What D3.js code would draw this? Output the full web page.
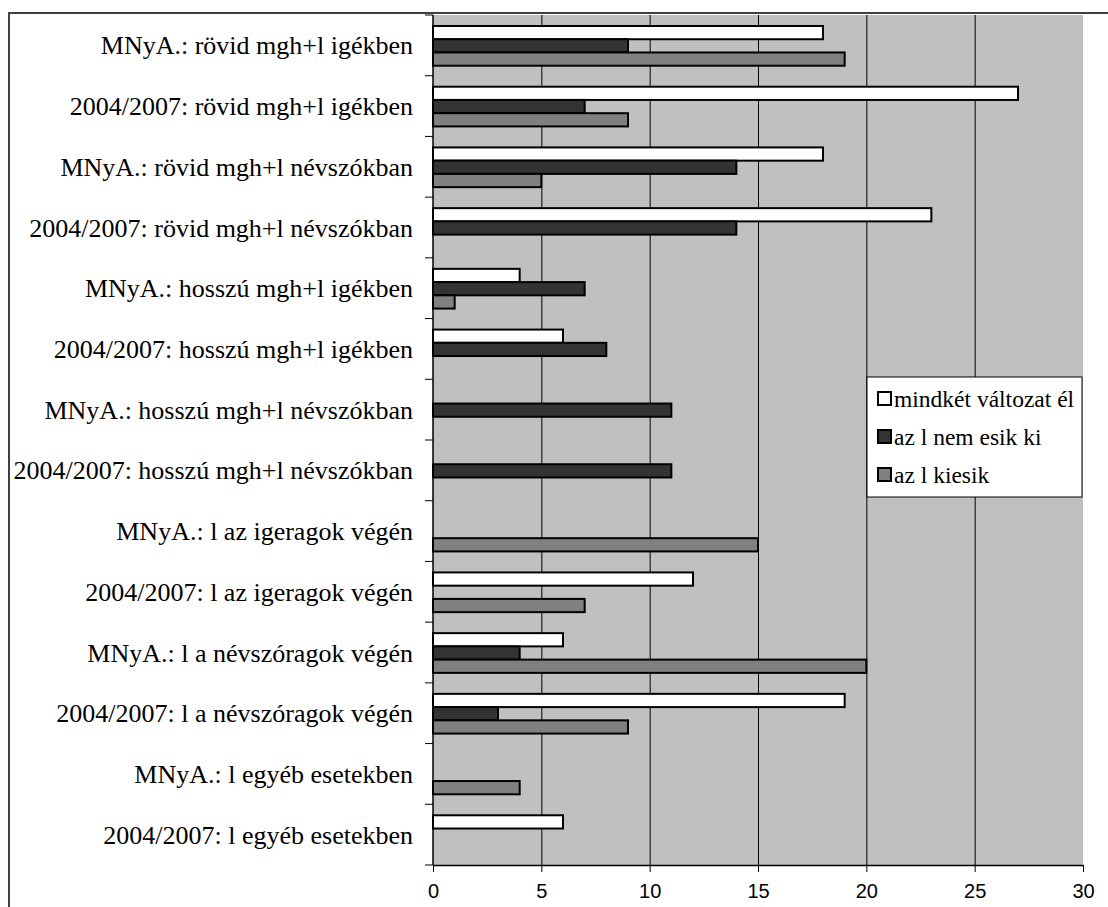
<!DOCTYPE html>
<html>
<head>
<meta charset="utf-8">
<script src="https://cdn.jsdelivr.net/npm/d3@7"></script>
<style>
  body { margin: 0; background: #fff; }
  svg { display: block; }
</style>
</head>
<body>
<div id="chart"></div>
<script>
var categories = [
  "MNyA.: rövid mgh+l igékben",
  "2004/2007: rövid mgh+l igékben",
  "MNyA.: rövid mgh+l névszókban",
  "2004/2007: rövid mgh+l névszókban",
  "MNyA.: hosszú mgh+l igékben",
  "2004/2007: hosszú mgh+l igékben",
  "MNyA.: hosszú mgh+l névszókban",
  "2004/2007: hosszú mgh+l névszókban",
  "MNyA.: l az igeragok végén",
  "2004/2007: l az igeragok végén",
  "MNyA.: l a névszóragok végén",
  "2004/2007: l a névszóragok végén",
  "MNyA.: l egyéb esetekben",
  "2004/2007: l egyéb esetekben"
];

var seriesNames = ["mindkét változat él", "az l nem esik ki", "az l kiesik"];
var seriesColors = ["#ffffff", "#333333", "#808080"];

var bothForms = [18, 27, 18, 23, 4, 6, 0, 0, 0, 12, 6, 19, 0, 6];
var notDropped = [9, 7, 14, 14, 7, 8, 11, 11, 0, 0, 4, 3, 0, 0];
var dropped = [19, 9, 5, 0, 1, 0, 0, 0, 15, 7, 20, 9, 4, 0];

var xTicks = [0, 5, 10, 15, 20, 25, 30];

var width = 1108, height = 907;
var margin = {top: 14, right: 25, bottom: 42, left: 433};
var serif = "'Liberation Serif', 'Times New Roman', serif";

var svg = d3.select("#chart").append("svg")
  .attr("width", width)
  .attr("height", height);

// outer chart border (runs off the image at right/bottom)
svg.append("rect")
  .attr("x", 9).attr("y", 13)
  .attr("width", width + 20).attr("height", height + 20)
  .attr("fill", "none")
  .attr("stroke", "#404040")
  .attr("stroke-width", 2);

var x = d3.scaleLinear().domain([0, 30]).range([margin.left, width - margin.right]);
var y = d3.scaleBand().domain(categories).range([margin.top + 1, height - margin.bottom]);
var inner = d3.scaleBand().domain([0, 1, 2]).range([11, y.bandwidth() - 10]);

// plot background
svg.append("rect")
  .attr("x", x(0)).attr("y", y.range()[0])
  .attr("width", x(30) - x(0))
  .attr("height", y.range()[1] - y.range()[0])
  .attr("fill", "#c0c0c0");

// gridlines
svg.append("g").selectAll("line")
  .data(xTicks.slice(1, -1))
  .enter().append("line")
  .attr("x1", function(d) { return x(d) + 0.5; })
  .attr("x2", function(d) { return x(d) + 0.5; })
  .attr("y1", y.range()[0])
  .attr("y2", y.range()[1])
  .attr("stroke", "#000")
  .attr("stroke-width", 1);

var rows = categories.map(function(c, i) {
  return {cat: c, values: [bothForms[i], notDropped[i], dropped[i]]};
});

var group = svg.append("g").selectAll("g")
  .data(rows)
  .enter().append("g")
  .attr("transform", function(d) { return "translate(0," + y(d.cat) + ")"; });

group.selectAll("rect")
  .data(function(d) { return d.values.map(function(v, k) { return {v: v, k: k}; }); })
  .enter().filter(function(d) { return d.v > 0; })
  .append("rect")
  .attr("x", x(0))
  .attr("y", function(d) { return inner(d.k); })
  .attr("width", function(d) { return x(d.v) - x(0); })
  .attr("height", inner.bandwidth())
  .attr("fill", function(d) { return seriesColors[d.k]; })
  .attr("stroke", "#000")
  .attr("stroke-width", 2);

// y axis
var yAxis = svg.append("g")
  .attr("transform", "translate(" + x(0) + ",0)");
yAxis.append("line")
  .attr("x1", 0).attr("x2", 0)
  .attr("y1", y.range()[0]).attr("y2", y.range()[1])
  .attr("stroke", "#000").attr("stroke-width", 1.5);
yAxis.selectAll(".tk")
  .data(d3.range(categories.length + 1))
  .enter().append("line")
  .attr("x1", -8).attr("x2", 0)
  .attr("y1", function(i) { return y.range()[0] + i * y.step(); })
  .attr("y2", function(i) { return y.range()[0] + i * y.step(); })
  .attr("stroke", "#000");
yAxis.selectAll("text")
  .data(categories)
  .enter().append("text")
  .attr("x", -20)
  .attr("y", function(d) { return y(d) + y.bandwidth() / 2; })
  .attr("dy", "0.35em")
  .attr("text-anchor", "end")
  .style("font-family", serif)
  .style("font-size", "26px")
  .attr("fill", "#000")
  .text(function(d) { return d; });

// x axis
var xAxis = svg.append("g")
  .attr("transform", "translate(0," + y.range()[1] + ")")
  .call(d3.axisBottom(x).tickValues(xTicks).tickSizeInner(7).tickSizeOuter(0).tickPadding(12));
xAxis.select(".domain").attr("stroke-width", 1.5);
xAxis.selectAll("text")
  .style("font-family", "'Liberation Sans', Arial, sans-serif")
  .style("font-size", "20px")
  .attr("fill", "#000");

// legend
var legend = svg.append("g").attr("transform", "translate(867,377)");
legend.append("rect")
  .attr("width", 215).attr("height", 120)
  .attr("fill", "#fff")
  .attr("stroke", "#000")
  .attr("stroke-width", 1);
var item = legend.selectAll(".item")
  .data(seriesNames)
  .enter().append("g")
  .attr("transform", function(d, i) { return "translate(10," + (22 + i * 38) + ")"; });
item.append("rect")
  .attr("x", 1).attr("y", -7)
  .attr("width", 13).attr("height", 13)
  .attr("fill", function(d, i) { return seriesColors[i]; })
  .attr("stroke", "#000")
  .attr("stroke-width", 2);
item.append("text")
  .attr("x", 17)
  .attr("dy", "0.35em")
  .style("font-family", serif)
  .style("font-size", "23.5px")
  .attr("fill", "#000")
  .text(function(d) { return d; });
</script>
</body>
</html>
